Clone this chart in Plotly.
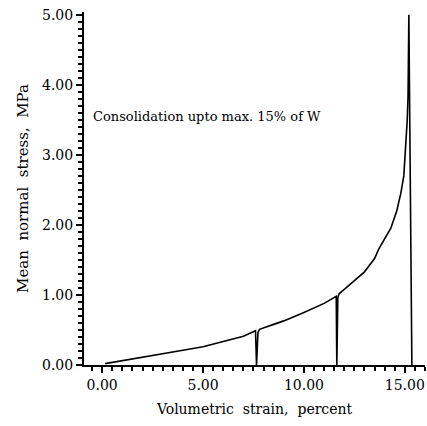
import plotly.graph_objects as go

# Data (volumetric strain %, mean normal stress MPa)
strain = [0.15, 1.0, 2.0, 3.0, 4.0, 5.0, 6.0, 7.0, 7.6,
          7.65, 7.72, 7.8, 8.5, 9.0, 10.0, 11.0, 11.6,
          11.63, 11.68, 11.75, 12.0, 12.5, 13.0, 13.5, 13.7, 14.0, 14.3,
          14.6, 14.8, 14.95, 15.05, 15.12, 15.16, 15.2, 15.35]
stress = [0.02, 0.06, 0.11, 0.16, 0.21, 0.26, 0.33, 0.41, 0.49,
          0.0, 0.46, 0.51, 0.58, 0.63, 0.75, 0.88, 0.98,
          0.0, 0.97, 1.02, 1.08, 1.2, 1.33, 1.52, 1.65, 1.8, 1.95,
          2.2, 2.45, 2.7, 3.1, 3.5, 3.85, 5.0, 0.0]

x_ticks = [0, 5, 10, 15]
y_ticks = [0, 1, 2, 3, 4, 5]

FONT = "DejaVu Serif"

fig = go.Figure()
fig.add_trace(go.Scatter(x=strain, y=stress, mode="lines",
                         line=dict(color="black", width=1.6),
                         showlegend=False, hoverinfo="skip"))

fig.add_annotation(x=0.02, y=3.55, xref="paper", yref="y",
                   text="Consolidation upto max. 15% of W",
                   showarrow=False, xanchor="left", yanchor="middle",
                   font=dict(family=FONT, size=13, color="black"))

fig.update_layout(
    width=427, height=426,
    margin=dict(l=84, r=2, t=12, b=61),
    paper_bgcolor="white", plot_bgcolor="white",
    font=dict(family=FONT, color="black", size=14),
    xaxis=dict(range=[-0.9, 16.0], tickvals=x_ticks,
               ticktext=[f"{v:.2f}" for v in x_ticks],
               showgrid=False, zeroline=False, showline=True,
               linecolor="black", linewidth=2, ticks="outside",
               ticklen=6, tickwidth=2, tickcolor="black",
               minor=dict(dtick=0.5, tick0=0, ticks="outside", ticklen=4,
                          tickwidth=1.5, tickcolor="black", showgrid=False),
               tickfont=dict(family=FONT, size=14),
               title=dict(text="Volumetric  strain,  percent", standoff=12,
                          font=dict(family=FONT, size=14))),
    yaxis=dict(range=[0, 5.04], tickvals=y_ticks,
               ticktext=[f"{v:.2f}" for v in y_ticks],
               showgrid=False, zeroline=False, showline=True,
               linecolor="black", linewidth=2, ticks="outside",
               ticklen=6, tickwidth=2, tickcolor="black",
               minor=dict(dtick=0.1, tick0=0, ticks="outside", ticklen=4,
                          tickwidth=1.5, tickcolor="black", showgrid=False),
               tickfont=dict(family=FONT, size=14),
               title=dict(text="Mean  normal  stress,  MPa", standoff=10,
                          font=dict(family=FONT, size=15))),
)

fig.write_html("out.html")
